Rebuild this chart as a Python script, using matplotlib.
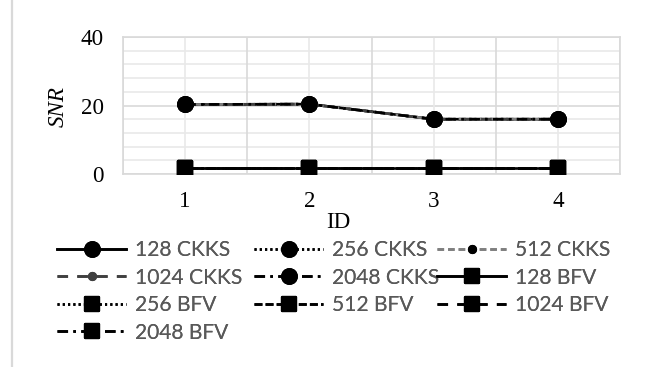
import matplotlib
matplotlib.use("Agg")
import matplotlib.pyplot as plt
from matplotlib.lines import Line2D
from matplotlib.markers import MarkerStyle
import numpy as np

# ---- data ----
ids = [1, 2, 3, 4]
ckks_128 = [20.3, 20.4, 16.0, 16.0]
ckks_256 = [20.3, 20.4, 16.0, 16.0]
ckks_512 = [20.3, 20.4, 16.0, 16.0]
ckks_1024 = [20.3, 20.4, 16.0, 16.0]
ckks_2048 = [20.3, 20.4, 16.0, 16.0]
bfv_128 = [1.8, 1.8, 1.8, 1.8]
bfv_256 = [1.8, 1.8, 1.8, 1.8]
bfv_512 = [1.8, 1.8, 1.8, 1.8]
bfv_1024 = [1.8, 1.8, 1.8, 1.8]
bfv_2048 = [1.8, 1.8, 1.8, 1.8]
labels = ["128 CKKS", "256 CKKS", "512 CKKS", "1024 CKKS", "2048 CKKS",
          "128 BFV", "256 BFV", "512 BFV", "1024 BFV", "2048 BFV"]
y_ticks = [0, 20, 40]

W, H = 646, 367
fig = plt.figure(figsize=(W / 100, H / 100), dpi=100)
ax = fig.add_axes([123 / W, 1 - 174 / H, (620 - 123) / W, (174 - 37) / H])

serif = "Liberation Serif"
px = 0.72  # points per pixel at dpi 100

big = 10.5
small = 5.0
sqs = 10.0
lw = 1.9
sq = MarkerStyle("s", joinstyle="round")
styles = [
    dict(ls="-", color="black", marker="o", ms=big, mfc="black", mec="black"),
    dict(ls=(0, (0.8, 1.2)), color="black", marker="o", ms=big, mfc="black", mec="black"),
    dict(ls=(0, (2.5, 1.5)), color="#7f7f7f", marker="o", ms=small, mfc="black", mec="black"),
    dict(ls=(0, (4, 3.5)), color="#404040", marker="o", ms=small, mfc="#404040", mec="#404040"),
    dict(ls=(0, (4, 2, 1, 2)), color="black", marker="o", ms=big, mfc="black", mec="black"),
    dict(ls="-", color="black", marker=sq, ms=sqs, mfc="black", mec="black"),
    dict(ls=(0, (0.8, 1.2)), color="black", marker=sq, ms=sqs, mfc="black", mec="black"),
    dict(ls=(0, (3, 1.2)), color="black", marker=sq, ms=sqs, mfc="black", mec="black"),
    dict(ls=(0, (4, 3.5)), color="black", marker=sq, ms=sqs, mfc="black", mec="black"),
    dict(ls=(0, (4, 2, 1, 2)), color="black", marker=sq, ms=sqs, mfc="black", mec="black"),
]
series = [ckks_128, ckks_256, ckks_512, ckks_1024, ckks_2048,
          bfv_128, bfv_256, bfv_512, bfv_1024, bfv_2048]

handles = []
for vals, st, lab in zip(series, styles, labels):
    h, = ax.plot(ids, vals, linestyle=st["ls"], color=st["color"], lw=lw,
                 marker=st["marker"], markersize=st["ms"], markerfacecolor=st["mfc"],
                 markeredgecolor=st["mec"], markeredgewidth=1.6,
                 solid_joinstyle="round", dash_capstyle="butt",
                 label=lab, zorder=3)
    handles.append(h)

ax.set_xlim(0.5, 4.5)
ax.set_ylim(0, 40)
ax.set_yticks(y_ticks)
ax.set_xticks(ids)
ax.tick_params(which="both", length=0)
ax.tick_params(axis="y", pad=14)
ax.tick_params(axis="x", pad=12)
for t in ax.get_xticklabels() + ax.get_yticklabels():
    t.set_fontfamily(serif)
    t.set_fontsize(23 * px)
    t.set_color("black")

# gridlines
for y in np.arange(0, 41, 4):
    c = "#d9d9d9" if y in y_ticks else "#e9e9e9"
    ax.axhline(y, color=c, lw=1.2, zorder=1)
for x in [0.5, 1.5, 2.5, 3.5, 4.5]:
    ax.axvline(x, color="#d9d9d9", lw=1.2, zorder=1)
for x in ids:
    ax.axvline(x, color="#e9e9e9", lw=1.2, zorder=1)
for s in ax.spines.values():
    s.set_color("#d9d9d9")
    s.set_linewidth(1.2)

ax.set_xlabel("ID", fontfamily=serif, fontsize=23 * px)
ax.xaxis.set_label_coords((338 - 123) / (620 - 123), -(223 - 174) / (174 - 37))
ax.xaxis.label.set_va("center")
ax.set_ylabel("SNR", fontfamily=serif, fontstyle="italic", fontsize=23 * px)
ax.yaxis.set_label_coords(-(123 - 58) / (620 - 123), (174 - 107) / (174 - 37))
ax.yaxis.label.set_va("center")

# left border line of the chart
fig.add_artist(Line2D([12 / W, 12 / W], [0, 1], transform=fig.transFigure, color="#d9d9d9", lw=1.6))

# legend, three columns (row-major order)
cols = [[0, 3, 6, 9], [1, 4, 7], [2, 5, 8]]
col_x = [57, 254, 437]
for cx, idxs in zip(col_x, cols):
    leg = fig.legend([handles[i] for i in idxs], [labels[i] for i in idxs],
                     loc="upper left", bbox_to_anchor=(cx / W, 1 - 240 / H),
                     frameon=False, prop={"family": "Lato", "size": 21 * px},
                     handlelength=3.3, handletextpad=0.4, labelspacing=0.36,
                     borderpad=0, borderaxespad=0, labelcolor="#595959")
    fig.add_artist(leg)

fig.savefig("out.png", dpi=100)
